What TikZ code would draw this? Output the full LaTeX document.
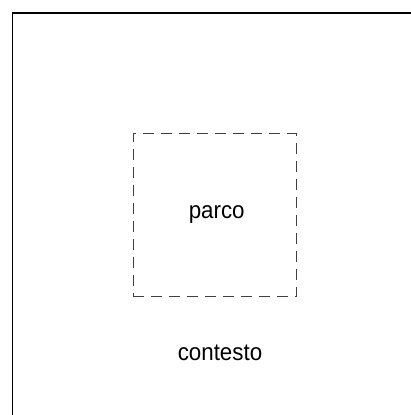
\documentclass[tikz,border=0pt]{standalone}
\usepackage{fontspec}
\setmainfont{Liberation Sans}
\newcommand{\narrowtext}[1]{\scalebox{0.93}[1]{#1}}
\begin{document}
\begin{tikzpicture}[x=1pt,y=1pt,
  lbl/.style={inner sep=0pt, anchor=base, font=\fontsize{24}{28}\selectfont},
  area/.style={draw=black, line width=1.4pt},
  zone/.style={draw=black!75, line width=1pt, dash pattern=on 11pt off 7pt}]
\useasboundingbox (0,0) rectangle (411,415);
\clip (0,0) rectangle (411,415);
\node[area, minimum width=440, minimum height=440, anchor=north west, inner sep=0pt] (outer) at (11.5,402.5) {};
\node[zone, minimum width=163, minimum height=163, inner sep=0pt] (parcobox) at (214.5,199.5) {};
\node[lbl] (parco) at (216.7,196.5) {\narrowtext{parco}};
\node[lbl] (contesto) at (220,54.5) {\narrowtext{contesto}};
\end{tikzpicture}
\end{document}
